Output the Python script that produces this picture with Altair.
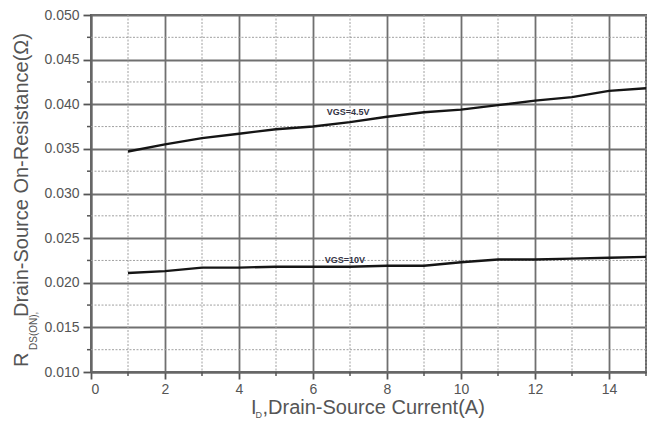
import altair as alt
import pandas as pd

# ---- data ----
current = [1, 2, 3, 4, 5, 6, 7, 8, 9, 10, 11, 12, 13, 14, 15]
rds_vgs45 = [0.0347, 0.0355, 0.0362, 0.0367, 0.0372, 0.0375, 0.0380, 0.0386,
             0.0391, 0.0394, 0.0399, 0.0404, 0.0408, 0.0415, 0.0418]
rds_vgs10 = [0.0211, 0.0213, 0.0217, 0.0217, 0.0218, 0.0218, 0.0218, 0.0219,
             0.0219, 0.0223, 0.0226, 0.0226, 0.0227, 0.0228, 0.0229]
series_names = ["VGS=4.5V", "VGS=10V"]
label_x = [6.37, 6.32]
label_y = [0.03913, 0.0226]
x_major = [0, 2, 4, 6, 8, 10, 12, 14]
x_minor = [1, 3, 5, 7, 9, 11, 13, 15]
y_major = [0.010, 0.015, 0.020, 0.025, 0.030, 0.035, 0.040, 0.045, 0.050]
y_minor = [0.0125, 0.0175, 0.0225, 0.0275, 0.0325, 0.0375, 0.0425, 0.0475]

rows = []
for xv, a, b in zip(current, rds_vgs45, rds_vgs10):
    rows.append({"ID": xv, "RDS": a, "series": series_names[0]})
    rows.append({"ID": xv, "RDS": b, "series": series_names[1]})
df = pd.DataFrame(rows)
lab = pd.DataFrame({"x": label_x, "y": label_y, "t": series_names})
xmin_df = pd.DataFrame({"x": x_minor})
ymin_df = pd.DataFrame({"y": y_minor})

W, H = 555, 357
TXT = "#555555"
FONT = "Liberation Sans"
MAJOR = "#707070"
MINOR = "#a0a0a0"

xs = alt.Scale(domain=[0, 15], nice=False, zero=False)
ys = alt.Scale(domain=[0.010, 0.050], nice=False, zero=False)

x_axis = alt.Axis(
    values=x_major, title="", labelFontSize=14, labelColor=TXT, labelFont=FONT,
    labelPadding=3, grid=True, gridColor=MAJOR, gridWidth=1.8,
    tickSize=7, tickColor="#555555", tickWidth=1.8,
    domainColor="#666666", domainWidth=2,
)
y_axis = alt.Axis(
    values=y_major, title="", format=".3f", labelFontSize=14, labelColor=TXT,
    labelFont=FONT, labelPadding=4, grid=True, gridColor=MAJOR, gridWidth=1.8,
    tickSize=8, tickColor="#555555", tickWidth=1.8,
    domainColor="#666666", domainWidth=2,
)

# minor dotted grid lines
xgrid = alt.Chart(xmin_df).mark_rule(color=MINOR, strokeWidth=1, strokeDash=[2, 1.5]).encode(
    x=alt.X("x:Q", scale=xs), y=alt.value(0), y2=alt.value(H))
ygrid = alt.Chart(ymin_df).mark_rule(color=MINOR, strokeWidth=1, strokeDash=[2, 1.5]).encode(
    y=alt.Y("y:Q", scale=ys), x=alt.value(0), x2=alt.value(W))
# minor ticks
xtick = alt.Chart(xmin_df).mark_rule(color="#555555", strokeWidth=1.5).encode(
    x=alt.X("x:Q", scale=xs), y=alt.value(H), y2=alt.value(H + 4))
ytick = alt.Chart(ymin_df).mark_rule(color="#555555", strokeWidth=1.5).encode(
    y=alt.Y("y:Q", scale=ys), x=alt.value(-4), x2=alt.value(0))

lines = alt.Chart(df).mark_line(color="#151515", strokeWidth=2.4).encode(
    x=alt.X("ID:Q", scale=xs, axis=x_axis),
    y=alt.Y("RDS:Q", scale=ys, axis=y_axis),
    detail="series:N",
)

labels = alt.Chart(lab).mark_text(
    align="left", baseline="middle", fontSize=9, fontWeight="bold",
    font=FONT, color="#333344"
).encode(x=alt.X("x:Q", scale=xs), y=alt.Y("y:Q", scale=ys), text="t:N")


def txt(s, x, y, size, angle=0):
    d = pd.DataFrame({"t": [s]})
    kw = dict(align="left", baseline="alphabetic", fontSize=size, font=FONT, color=TXT)
    if angle:
        kw["angle"] = angle
    return alt.Chart(d).mark_text(**kw).encode(
        x=alt.value(x), y=alt.value(y), text="t:N")


# axis titles with subscripts
yt1 = txt("R", -63, 352, 20, 270)
yt2 = txt("DS(ON),", -54, 335, 10, 270)
yt3 = txt("Drain-Source On-Resistance(Ω)", -63, 302, 20, 270)
xt1 = txt("I", 160, 399, 20)
xt2 = txt("D", 164.5, 403, 9)
xt3 = txt(",Drain-Source Current(A)", 171.5, 399, 20)

chart = alt.layer(xgrid, ygrid, xtick, ytick, lines, labels,
                  yt1, yt2, yt3, xt1, xt2, xt3).properties(
    width=W, height=H,
    autosize=alt.AutoSizeParams(type="none"),
    padding={"left": 83, "top": 7, "right": 1, "bottom": 48},
    background="white",
).configure_view(stroke="#666666", strokeWidth=2)

chart.save("out.html", embed_options={"renderer": "svg", "actions": False})
